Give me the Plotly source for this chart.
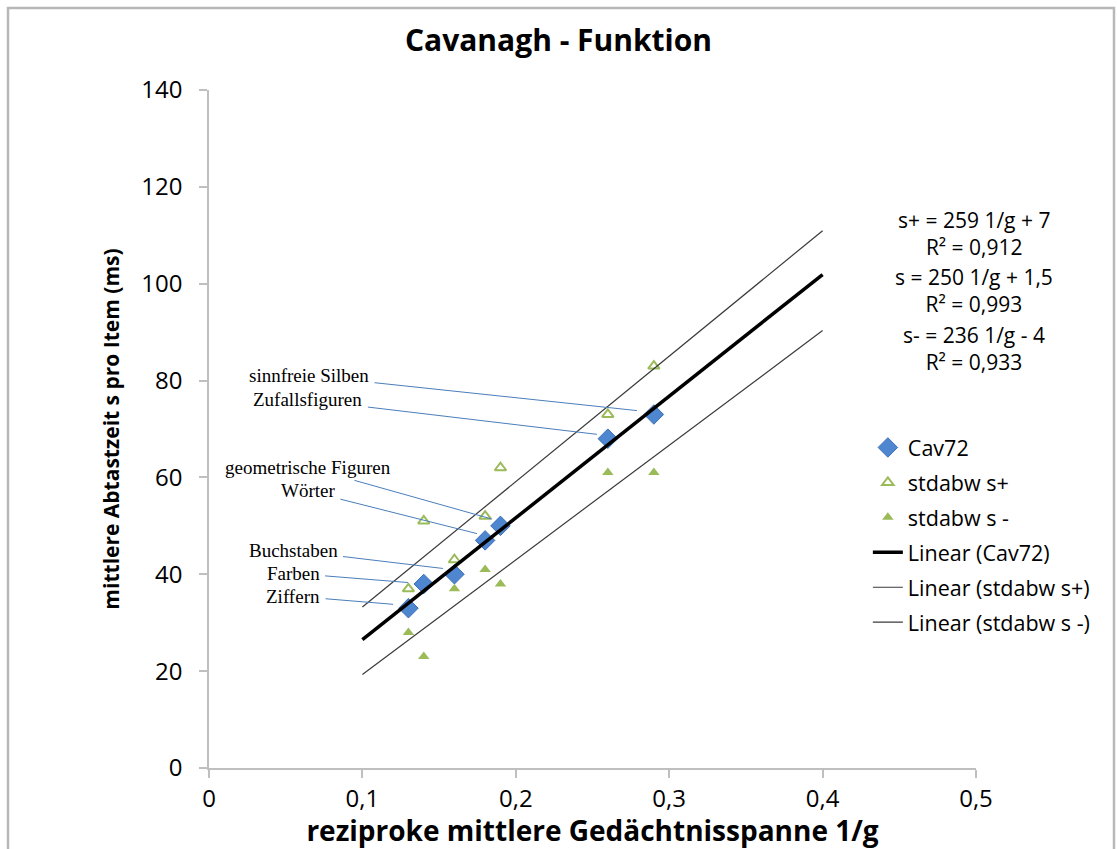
import numpy as np
import plotly.graph_objects as go

# ---------------- data ----------------
inv_span = [0.13, 0.14, 0.16, 0.18, 0.19, 0.26, 0.29]          # 1/g
cav72 = [33, 38, 40, 47, 50, 68, 73]                            # s (ms)
sd_plus = [37, 51, 43, 52, 62, 73, 83]                          # s+ (ms)
sd_minus = [28, 23, 37, 41, 38, 61, 61]                         # s- (ms)
item_labels = ["Ziffern", "Farben", "Buchstaben", "Wörter",
               "geometrische Figuren", "Zufallsfiguren", "sinnfreie Silben"]
trend_range = [0.1, 0.4]
equations = ["s+ = 259 1/g + 7<br>R² = 0,912",
             "s = 250 1/g + 1,5<br>R² = 0,993",
             "s- = 236 1/g - 4<br>R² = 0,933"]
x_ticks = [0, 0.1, 0.2, 0.3, 0.4, 0.5]
x_ticktext = ["0", "0,1", "0,2", "0,3", "0,4", "0,5"]
y_ticks = [0, 20, 40, 60, 80, 100, 120, 140]

# ---------------- layout helpers (positions, not data) ----------------
label_pos = [(0.0548, 35.5), (0.0548, 40.2), (0.0548, 44.9), (0.0645, 57.2),
             (0.0645, 62.1), (0.0645, 76.0), (0.0652, 81.0)]
leader_end = [(0.120, 33.8), (0.1297, 38.3), (0.1525, 41.2), (0.1747, 48.4),
              (0.1845, 51.4), (0.2529, 68.9), (0.279, 73.8)]
eq_x = 0.4987
eq_y = [110.3, 98.5, 86.6]

SANS = "'Open Sans', Lato, sans-serif"
SERIF = "'Liberation Serif', 'Times New Roman', serif"
BLUE = "#4f86d0"
GREEN = "#9bbb59"


def fit_line(x, y):
    k, d = np.polyfit(x, y, 1)
    xs = np.array(trend_range)
    return xs, k * xs + d


fig = go.Figure()

fig.add_trace(go.Scatter(
    x=inv_span, y=cav72, mode="markers", name="Cav72", legendgroup="a",
    marker=dict(symbol="diamond", size=15, color=BLUE,
                line=dict(color="#3c6fb8", width=1))))
fig.add_trace(go.Scatter(
    x=inv_span, y=sd_plus, mode="markers", name="stdabw s+", legendgroup="b",
    marker=dict(symbol="triangle-up-open", size=10, color=GREEN,
                line=dict(color=GREEN, width=2))))
fig.add_trace(go.Scatter(
    x=inv_span, y=sd_minus, mode="markers", name="stdabw s -", legendgroup="c",
    marker=dict(symbol="triangle-up", size=10, color=GREEN)))

for ys, name, width, color, grp in [
        (cav72, "Linear (Cav72)", 3.5, "#000000", "d"),
        (sd_plus, "Linear (stdabw s+)", 1.2, "#3a3a3a", "e"),
        (sd_minus, "Linear (stdabw s -)", 1.2, "#3a3a3a", "f")]:
    xs, yl = fit_line(inv_span, ys)
    fig.add_trace(go.Scatter(x=xs, y=yl, mode="lines", name=name, legendgroup=grp,
                             line=dict(color=color, width=width)))

annotations = []
for lab, (tx, ty), (ex, ey) in zip(item_labels, label_pos, leader_end):
    annotations.append(dict(
        x=ex, y=ey, xref="x", yref="y", ax=tx, ay=ty, axref="x", ayref="y",
        text=lab, showarrow=True, arrowhead=0, arrowwidth=1, arrowcolor="#4a7ebb",
        standoff=0, startstandoff=4,
        font=dict(family=SERIF, size=19, color="#000")))
for t, yy in zip(equations, eq_y):
    annotations.append(dict(
        x=eq_x, y=yy, xref="x", yref="y", text=t, showarrow=False,
        xanchor="center", yanchor="middle", align="center", borderpad=0,
        font=dict(family=SANS, size=21, color="#000")))

fig.update_layout(
    width=1117, height=849,
    margin=dict(l=209, r=141, t=90, b=76),
    paper_bgcolor="white", plot_bgcolor="white",
    title=dict(text="<b>Cavanagh - Funktion</b>", x=0.5, xref="container",
               xanchor="center", y=1 - 40 / 849, yanchor="middle",
               font=dict(family=SANS, size=30, color="#000")),
    showlegend=True,
    legend=dict(x=0.859, y=0.503, xanchor="left", yanchor="top",
                traceorder="grouped", tracegroupgap=4,
                bgcolor="rgba(0,0,0,0)",
                font=dict(family=SANS, size=21.5, color="#000")),
    annotations=annotations,
    shapes=[dict(type="rect", xref="paper", yref="paper",
                 x0=(8 - 209) / 767, x1=(1114 - 209) / 767,
                 y0=(773 - 860) / 683, y1=(773 - 7.5) / 683,
                 line=dict(color="#b8b8b8", width=2.5), layer="below")],
)

fig.update_xaxes(range=[0, 0.5], tickvals=x_ticks, ticktext=x_ticktext,
                 showgrid=False, zeroline=False, showline=True,
                 linecolor="#bfbfbf", linewidth=1.5, ticks="outside",
                 ticklen=8, tickcolor="#bfbfbf", tickwidth=1.5,
                 tickfont=dict(family=SANS, size=24, color="#000"),
                 title=dict(text="<b>reziproke mittlere Gedächtnisspanne 1/g</b>",
                            font=dict(family=SANS, size=28, color="#000"),
                            standoff=4))
fig.update_yaxes(range=[0, 140], tickvals=y_ticks,
                 showgrid=False, zeroline=False, showline=True,
                 linecolor="#bfbfbf", linewidth=1.5, ticks="outside",
                 ticklen=8, tickcolor="#bfbfbf", tickwidth=1.5,
                 tickfont=dict(family=SANS, size=24, color="#000"),
                 ticklabelstandoff=12,
                 title=dict(text="<b>mittlere Abtastzeit s pro Item (ms)</b>",
                            font=dict(family=SANS, size=21, color="#000"),
                            standoff=16))

fig.write_html("out.html", config={"displayModeBar": False},
               post_script="document.body.style.margin='0';")
